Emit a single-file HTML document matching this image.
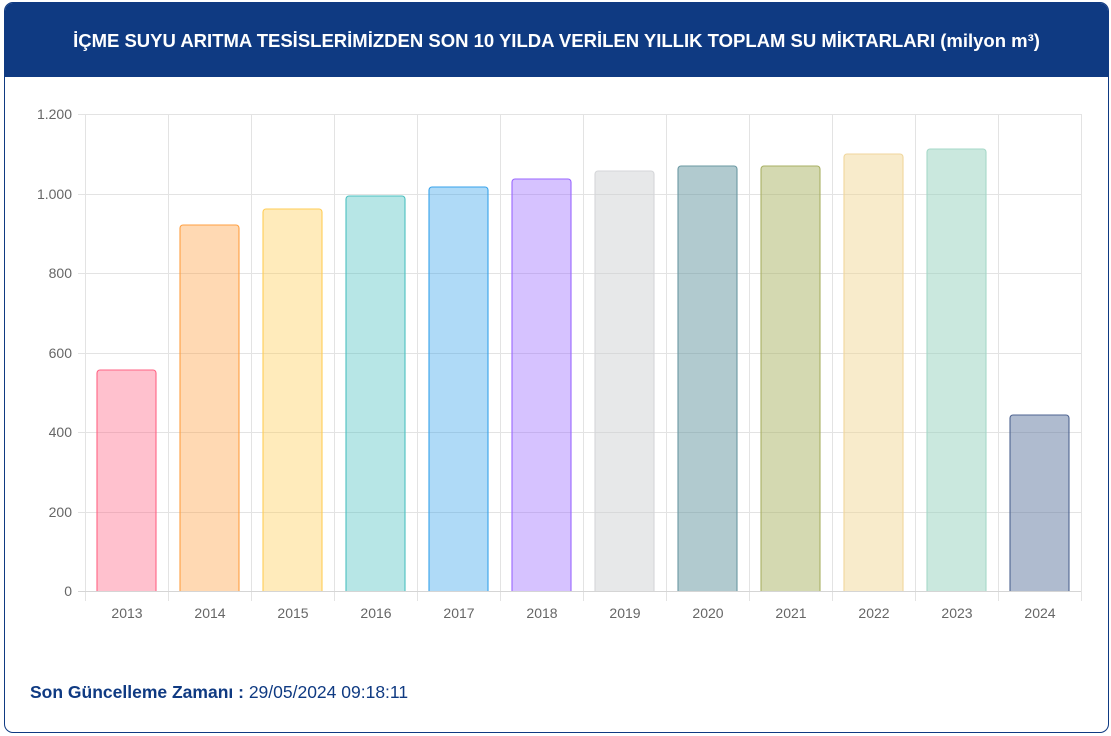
<!DOCTYPE html>
<html><head><meta charset="utf-8"><style>
body{margin:0;width:1111px;height:736px;background:#fff;font-family:"Liberation Sans",sans-serif;position:relative;overflow:hidden}
.card{position:absolute;left:4px;top:2px;width:1103px;height:729px;border:1px solid #0f3a82;border-radius:9px;overflow:hidden}
.hd{position:absolute;left:0;top:0;width:100%;height:74px;background:#0f3a82;color:#fff;font-weight:bold;font-size:18.5px;text-align:center;line-height:76px;white-space:nowrap}
.ft{position:absolute;left:30px;top:682px;color:#0f3a82;font-size:17.5px}
</style></head><body>
<div class="card"><div class="hd">İÇME SUYU ARITMA TESİSLERİMİZDEN SON 10 YILDA VERİLEN YILLIK TOPLAM SU MİKTARLARI (milyon m³)</div></div>
<svg style="position:absolute;left:0;top:0" width="1111" height="736" font-family="Liberation Sans, sans-serif">
<g stroke="#e3e3e3" stroke-width="1">
<line x1="78" x2="1081" y1="114.5" y2="114.5"/><line x1="78" x2="1081" y1="194.5" y2="194.5"/><line x1="78" x2="1081" y1="273.5" y2="273.5"/><line x1="78" x2="1081" y1="353.5" y2="353.5"/><line x1="78" x2="1081" y1="432.5" y2="432.5"/><line x1="78" x2="1081" y1="512.5" y2="512.5"/>
<line x1="85.5" x2="85.5" y1="114" y2="601"/><line x1="168.5" x2="168.5" y1="114" y2="601"/><line x1="251.5" x2="251.5" y1="114" y2="601"/><line x1="334.5" x2="334.5" y1="114" y2="601"/><line x1="417.5" x2="417.5" y1="114" y2="601"/><line x1="500.5" x2="500.5" y1="114" y2="601"/><line x1="583.5" x2="583.5" y1="114" y2="601"/><line x1="666.5" x2="666.5" y1="114" y2="601"/><line x1="749.5" x2="749.5" y1="114" y2="601"/><line x1="832.5" x2="832.5" y1="114" y2="601"/><line x1="915.5" x2="915.5" y1="114" y2="601"/><line x1="998.5" x2="998.5" y1="114" y2="601"/><line x1="1081.5" x2="1081.5" y1="114" y2="601"/>
<line x1="78" x2="1081" y1="591.5" y2="591.5" stroke="#d5d5d5"/>
</g>
<g fill="#666" font-size="14" text-anchor="end">
<text x="72" y="119">1.200</text><text x="72" y="199">1.000</text><text x="72" y="278">800</text><text x="72" y="358">600</text><text x="72" y="437">400</text><text x="72" y="517">200</text><text x="72" y="596">0</text>
</g>
<g fill="#666" font-size="14" text-anchor="middle">
<text x="127" y="618">2013</text><text x="210" y="618">2014</text><text x="293" y="618">2015</text><text x="376" y="618">2016</text><text x="459" y="618">2017</text><text x="542" y="618">2018</text><text x="625" y="618">2019</text><text x="708" y="618">2020</text><text x="791" y="618">2021</text><text x="874" y="618">2022</text><text x="957" y="618">2023</text><text x="1040" y="618">2024</text>
</g>
<g stroke-width="1.1">
<path d="M97 591V373a3 3 0 0 1 3-3h53a3 3 0 0 1 3 3V591" fill="rgba(255,99,132,0.4)" stroke="#ff6384"/>
<path d="M180 591V228a3 3 0 0 1 3-3h53a3 3 0 0 1 3 3V591" fill="rgba(255,159,64,0.4)" stroke="#ff9f40"/>
<path d="M263 591V212a3 3 0 0 1 3-3h53a3 3 0 0 1 3 3V591" fill="rgba(255,205,86,0.4)" stroke="#ffcd56"/>
<path d="M346 591V199a3 3 0 0 1 3-3h53a3 3 0 0 1 3 3V591" fill="rgba(75,192,192,0.4)" stroke="#4bc0c0"/>
<path d="M429 591V190a3 3 0 0 1 3-3h53a3 3 0 0 1 3 3V591" fill="rgba(54,162,235,0.4)" stroke="#36a2eb"/>
<path d="M512 591V182a3 3 0 0 1 3-3h53a3 3 0 0 1 3 3V591" fill="rgba(153,102,255,0.4)" stroke="#9966ff"/>
<path d="M595 591V174a3 3 0 0 1 3-3h53a3 3 0 0 1 3 3V591" fill="rgba(201,203,207,0.45)" stroke="#d5d6d9"/>
<path d="M678 591V169a3 3 0 0 1 3-3h53a3 3 0 0 1 3 3V591" fill="rgba(100,150,160,0.5)" stroke="#6a98a2"/>
<path d="M761 591V169a3 3 0 0 1 3-3h53a3 3 0 0 1 3 3V591" fill="rgba(170,180,100,0.5)" stroke="#a8b064"/>
<path d="M844 591V157a3 3 0 0 1 3-3h53a3 3 0 0 1 3 3V591" fill="rgba(240,210,140,0.45)" stroke="#f0d69c"/>
<path d="M927 591V152a3 3 0 0 1 3-3h53a3 3 0 0 1 3 3V591" fill="rgba(150,210,190,0.5)" stroke="#a6d8c8"/>
<path d="M1010 591V418a3 3 0 0 1 3-3h53a3 3 0 0 1 3 3V591" fill="rgba(95,120,160,0.5)" stroke="#4d6390"/>
</g>
</svg>
<div class="ft"><b>Son Güncelleme Zamanı :</b> 29/05/2024 09:18:11</div>
</body></html>
